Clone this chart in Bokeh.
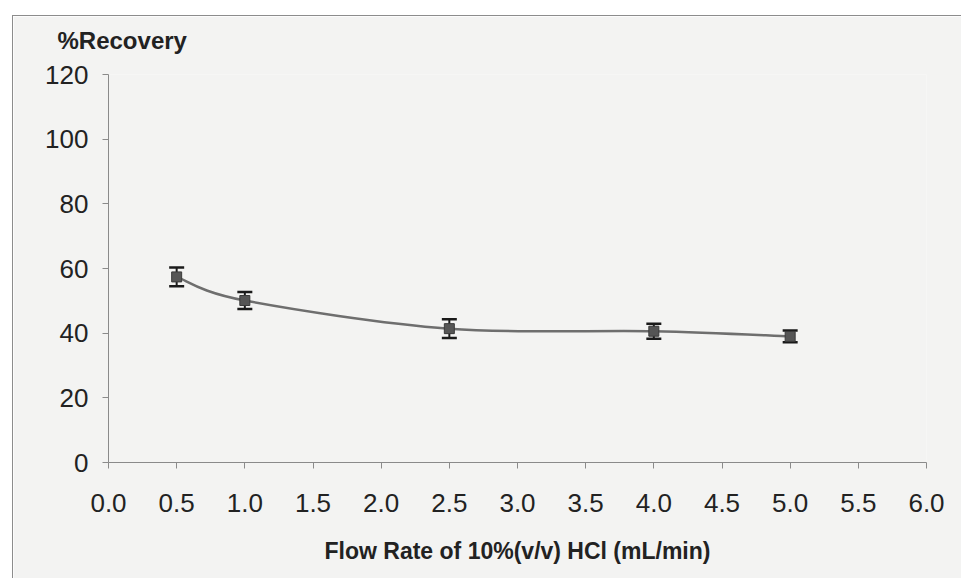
from bokeh.plotting import figure
from bokeh.models import (ColumnDataSource, FixedTicker, NumeralTickFormatter,
                          Whisker, TeeHead, Title)
from bokeh.embed import file_html
from bokeh.resources import INLINE

# ---- data ----
flow_rate = [0.5, 1.0, 2.5, 4.0, 5.0]
recovery = [57.4, 50.1, 41.4, 40.6, 39.0]
std_err = [2.9, 2.6, 2.9, 2.3, 1.8]
x_ticks = [0.0, 0.5, 1.0, 1.5, 2.0, 2.5, 3.0, 3.5, 4.0, 4.5, 5.0, 5.5, 6.0]
y_ticks = [0, 20, 40, 60, 80, 100, 120]
x_title = "Flow Rate of 10%(v/v) HCl (mL/min)"
y_title = "%Recovery"

BG = "#f3f3f2"
AXC = "#8a8a8a"
FONT = "Liberation Sans"

p = figure(width=949, height=563, x_range=(0, 6), y_range=(0, 120),
           output_backend="svg", toolbar_location=None, title_location=None,
           background_fill_color=BG, border_fill_color=BG,
           min_border_left=95, min_border_right=36,
           min_border_top=56, min_border_bottom=117)
p.margin = (15, 0, 0, 12)
p.styles = {"border-left": "1px solid #8c8c8c", "border-top": "1px solid #8c8c8c"}
p.outline_line_color = None
p.grid.visible = False

# spacer title next to the frame, then the y-axis caption above it
spacer = Title(text=" ", text_font=FONT, text_font_size="10px", standoff=0)
p.add_layout(spacer, "above")
caption = Title(text=y_title, align="left", offset=-51, standoff=16,
                text_font=FONT, text_font_style="bold", text_font_size="24px",
                text_color="#222222")
p.add_layout(caption, "above")

for ax in (p.xaxis[0], p.yaxis[0]):
    ax.axis_line_color = AXC
    ax.major_tick_line_color = AXC
    ax.major_tick_in = 0
    ax.major_tick_out = 6
    ax.minor_tick_line_color = None
    ax.major_label_text_font = FONT
    ax.major_label_text_font_size = "26px"
    ax.major_label_text_color = "#222222"

p.xaxis.ticker = FixedTicker(ticks=x_ticks)
p.xaxis.formatter = NumeralTickFormatter(format="0.0")
p.xaxis.major_label_standoff = 25
p.xaxis.axis_label = x_title
p.xaxis.axis_label_text_font = FONT
p.xaxis.axis_label_text_font_style = "bold"
p.xaxis.axis_label_text_font_size = "23px"
p.xaxis.axis_label_text_color = "#222222"
p.xaxis.axis_label_standoff = 23

p.yaxis.ticker = FixedTicker(ticks=y_ticks)
p.yaxis.major_label_standoff = 14

# ---- smoothed line (Bezier segments from the data points) ----
n = len(flow_rate)
x0, y0, x1, y1, cx0, cy0, cx1, cy1 = [], [], [], [], [], [], [], []
for i in range(n - 1):
    xa, ya = flow_rate[i], recovery[i]
    xb, yb = flow_rate[i + 1], recovery[i + 1]
    xp, yp = (flow_rate[i - 1], recovery[i - 1]) if i > 0 else (xa, ya)
    xn, yn = (flow_rate[i + 2], recovery[i + 2]) if i + 2 < n else (xb, yb)
    x0.append(xa); y0.append(ya); x1.append(xb); y1.append(yb)
    cx0.append(xa + (xb - xp) / 6.0); cy0.append(ya + (yb - yp) / 6.0)
    cx1.append(xb - (xn - xa) / 6.0); cy1.append(yb - (yn - ya) / 6.0)
curve = ColumnDataSource(dict(x0=x0, y0=y0, x1=x1, y1=y1,
                              cx0=cx0, cy0=cy0, cx1=cx1, cy1=cy1))
p.bezier(x0="x0", y0="y0", x1="x1", y1="y1", cx0="cx0", cy0="cy0",
         cx1="cx1", cy1="cy1", source=curve, line_color="#6e6e6e", line_width=2.5)

# ---- error bars ----
src = ColumnDataSource(dict(
    x=flow_rate, y=recovery,
    lower=[r - e for r, e in zip(recovery, std_err)],
    upper=[r + e for r, e in zip(recovery, std_err)]))
w = Whisker(source=src, base="x", lower="lower", upper="upper",
            line_color="#1a1a1a", line_width=2,
            upper_head=TeeHead(size=15, line_color="#1a1a1a", line_width=2.5),
            lower_head=TeeHead(size=15, line_color="#1a1a1a", line_width=2.5))
p.add_layout(w)

p.scatter("x", "y", source=src, marker="square", size=10,
          fill_color="#555555", line_color="#3a3a3a", line_width=1)

open("out.html", "w").write(file_html(p, INLINE))
